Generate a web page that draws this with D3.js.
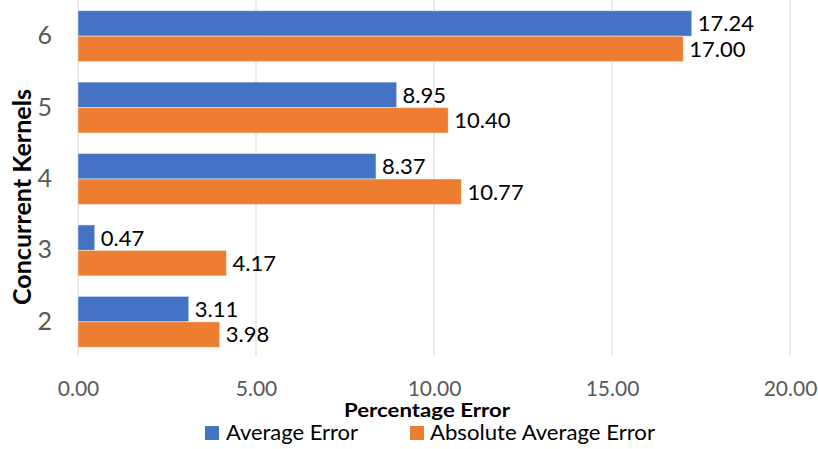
<!DOCTYPE html>
<html>
<head>
<meta charset="utf-8">
<script src="https://cdn.jsdelivr.net/npm/d3@7"></script>
<style>
  html, body { margin: 0; padding: 0; background: #fff; }
  svg { display: block; font-family: Lato, "Open Sans", sans-serif; }
</style>
</head>
<body>
<svg id="chart" width="818" height="449"></svg>
<script>
// Concurrent kernel counts (top to bottom) and the two error series
const kernels = ["6", "5", "4", "3", "2"];
const averageError = [17.24, 8.95, 8.37, 0.47, 3.11];
const absoluteAverageError = [17.00, 10.40, 10.77, 4.17, 3.98];
const seriesNames = ["Average Error", "Absolute Average Error"];
const seriesColors = ["#4472C4", "#ED7D31"];
const xTicks = [0, 5, 10, 15, 20];

const rows = kernels.map((k, i) => ({
  kernel: k,
  values: [averageError[i], absoluteAverageError[i]]
}));

const svg = d3.select("#chart");
const plot = { left: 78, right: 790, top: 0, bottom: 358 };

const x = d3.scaleLinear().domain([0, 20]).range([plot.left, plot.right]);
const y = d3.scaleBand()
  .domain(kernels)
  .range([plot.top, plot.bottom])
  .paddingInner(0.287)
  .paddingOuter(0.15);
const ySub = d3.scaleBand().domain([0, 1]).range([0, y.bandwidth()]);

// vertical gridlines
svg.append("g")
  .selectAll("line")
  .data(xTicks)
  .join("line")
  .attr("x1", d => x(d)).attr("x2", d => x(d))
  .attr("y1", plot.top).attr("y2", 356)
  .attr("stroke", "#d9d9d9")
  .attr("stroke-width", 1);

// bars
const groups = svg.append("g")
  .selectAll("g")
  .data(rows)
  .join("g")
  .attr("transform", d => `translate(0,${y(d.kernel)})`);

groups.selectAll("rect")
  .data(d => d.values.map((v, s) => ({ v, s })))
  .join("rect")
  .attr("x", x(0))
  .attr("y", d => ySub(d.s))
  .attr("width", d => x(d.v) - x(0))
  .attr("height", ySub.bandwidth())
  .attr("fill", d => seriesColors[d.s])
  .attr("stroke", "#ffffff")
  .attr("stroke-opacity", 0.45)
  .attr("stroke-width", 1);

// value labels
groups.selectAll("text")
  .data(d => d.values.map((v, s) => ({ v, s })))
  .join("text")
  .attr("x", d => x(d.v) + 6)
  .attr("y", d => ySub(d.s) + ySub.bandwidth() / 2)
  .attr("dy", "0.36em")
  .attr("font-size", 22)
  .attr("fill", "#000")
  .text(d => d.v.toFixed(2));

// x axis labels
const xAxis = svg.append("g")
  .attr("transform", `translate(0,${plot.bottom})`)
  .call(d3.axisBottom(x).tickValues(xTicks).tickFormat(d3.format(".2f")).tickSize(0).tickPadding(0));
xAxis.select(".domain").remove();
xAxis.selectAll("text")
  .attr("y", 38)
  .attr("dy", 0)
  .attr("font-family", "Lato, sans-serif")
  .attr("font-size", 21)
  .attr("fill", "#595959");

// y axis labels
const yAxis = svg.append("g")
  .attr("transform", `translate(${plot.left},0)`)
  .call(d3.axisLeft(y).tickSize(0).tickPadding(26));
yAxis.select(".domain").remove();
yAxis.selectAll("text")
  .attr("font-family", "Lato, sans-serif")
  .attr("font-size", 25)
  .attr("fill", "#595959");

// axis titles
svg.append("text")
  .attr("x", 427)
  .attr("y", 417)
  .attr("text-anchor", "middle")
  .attr("font-size", 19)
  .attr("font-weight", "bold")
  .attr("fill", "#000")
  .attr("textLength", 166)
  .attr("lengthAdjust", "spacingAndGlyphs")
  .text("Percentage Error");

svg.append("text")
  .attr("transform", "translate(31,197) rotate(-90)")
  .attr("text-anchor", "middle")
  .attr("font-size", 24)
  .attr("font-weight", "bold")
  .attr("fill", "#000")
  .attr("textLength", 216)
  .attr("lengthAdjust", "spacingAndGlyphs")
  .text("Concurrent Kernels");

// legend
const legendPos = [{ box: 205, text: 226, w: 132 }, { box: 410, text: 430, w: 225 }];
const legend = svg.append("g")
  .selectAll("g")
  .data(seriesNames)
  .join("g");
legend.append("rect")
  .attr("x", (d, i) => legendPos[i].box)
  .attr("y", 426)
  .attr("width", 14)
  .attr("height", 14)
  .attr("fill", (d, i) => seriesColors[i]);
legend.append("text")
  .attr("x", (d, i) => legendPos[i].text)
  .attr("y", 440)
  .attr("font-size", 21)
  .attr("fill", "#000")
  .attr("textLength", (d, i) => legendPos[i].w)
  .attr("lengthAdjust", "spacingAndGlyphs")
  .text(d => d);
</script>
</body>
</html>
